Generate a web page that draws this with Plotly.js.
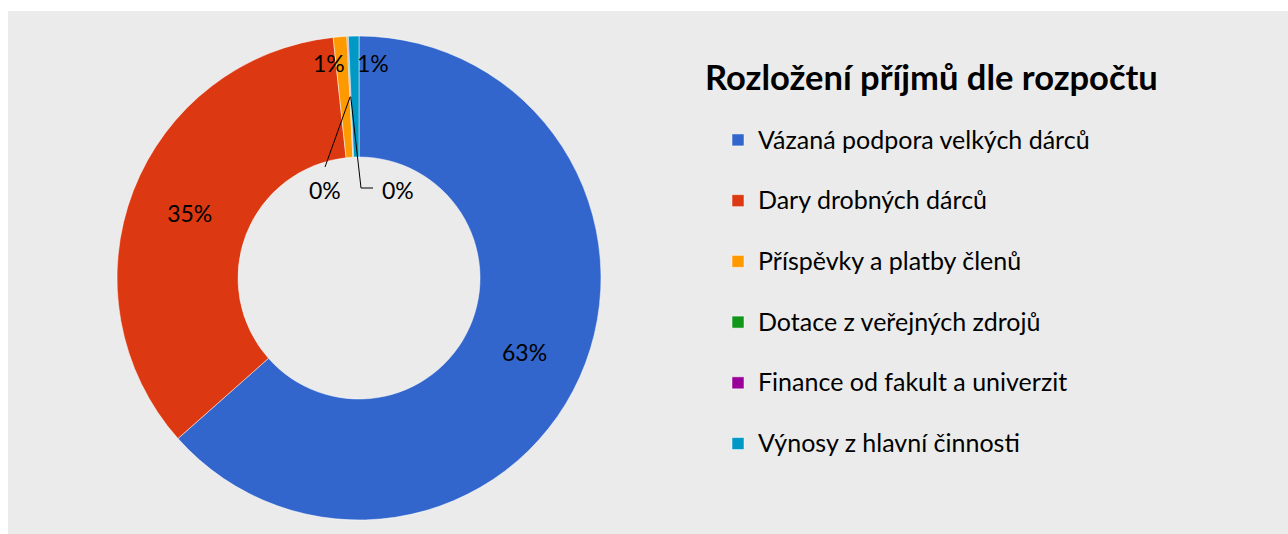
<!DOCTYPE html>
<html>
<head>
<meta charset="utf-8">
<script src="https://cdn.plot.ly/plotly-3.0.1.min.js"></script>
<style>
  html, body { margin: 0; padding: 0; background: #ffffff; }
  #chart { position: absolute; left: 8px; top: 11px; width: 1280px; height: 523px; }
  #chart .legendtext { font-size: 25px !important; }
  #chart .legend .scrollbox { clip-path: none !important; }
</style>
</head>
<body>
<div id="chart"></div>
<script>
// ---- data ----
const categories = [
  "Vázaná podpora velkých dárců",
  "Dary drobných dárců",
  "Příspěvky a platby členů",
  "Dotace z veřejných zdrojů",
  "Finance od fakult a univerzit",
  "Výnosy z hlavní činnosti"
];
const shares = [63.45, 34.85, 0.9, 0.05, 0.05, 0.7];
const sliceColors = ["#3366cc", "#dc3912", "#ff9900", "#109618", "#990099", "#0099c6"];
const chartTitle = "Rozložení příjmů dle rozpočtu";

// ---- geometry (page pixels) ----
const DIV_L = 8, DIV_T = 11, W = 1280, H = 523;
const CX = 359, CY = 278, R = 242, HOLE = 0.5;
const FONT = "Lato, 'Open Sans', sans-serif";

function px(x) { return (x - DIV_L) / W; }
function py(y) { return 1 - (y - DIV_T) / H; }

const total = shares.reduce((a, b) => a + b, 0);
const pctText = shares.map(v => Math.round(v / total * 100) + "%");
// mid angle (clockwise from 12 o'clock) of each slice
let cum = 0;
const midAngle = shares.map(v => { const a = (cum + v / 2) / total * 2 * Math.PI; cum += v; return a; });
function ringPoint(i, r) { return [CX + r * Math.sin(midAngle[i]), CY - r * Math.cos(midAngle[i])]; }

// small-slice label offsets (px from pie centre)
const smallLabelOffsets = { 2: [-30, -215], 3: [-34, -88], 4: [39, -88], 5: [14, -215] };

const annotations = Object.keys(smallLabelOffsets).map(k => {
  const i = +k, o = smallLabelOffsets[k];
  return {
    x: px(CX + o[0]), y: py(CY + o[1]), xref: "paper", yref: "paper",
    text: pctText[i], showarrow: false, xanchor: "center", yanchor: "middle",
    font: { family: FONT, size: 23, color: "#000" }
  };
});

const midR = R * (1 + HOLE) / 2;
const a3 = ringPoint(3, midR), a4 = ringPoint(4, midR);
const shapes = [
  { type: "line", xref: "paper", yref: "paper", x0: px(a3[0]), y0: py(a3[1]), x1: px(325), y1: py(167), line: { color: "#000", width: 1 } },
  { type: "line", xref: "paper", yref: "paper", x0: px(a4[0]), y0: py(a4[1]), x1: px(361), y1: py(188), line: { color: "#000", width: 1 } },
  { type: "line", xref: "paper", yref: "paper", x0: px(361), y0: py(188), x1: px(373), y1: py(188), line: { color: "#000", width: 1 } }
];

const trace = {
  type: "pie",
  labels: categories.map(c => c + "<br>\u00a0"),
  values: shares,
  hole: HOLE,
  sort: false,
  direction: "clockwise",
  rotation: 0,
  marker: { colors: sliceColors, line: { color: "#ffffff", width: 0.5 } },
  texttemplate: pctText,
  textinfo: "text",
  textposition: ["inside", "inside", "none", "none", "none", "none"],
  insidetextorientation: "horizontal",
  textfont: { family: FONT, size: 23, color: "#000" },
  domain: { x: [px(CX - R), px(CX + R)], y: [py(CY + R), py(CY - R)] },
  hoverinfo: "label+percent"
};

const layout = {
  width: W, height: H,
  margin: { l: 0, r: 0, t: 0, b: 0 },
  paper_bgcolor: "#ebebeb",
  plot_bgcolor: "#ebebeb",
  font: { family: FONT, color: "#000" },
  title: {
    text: "<b>" + chartTitle + "</b>",
    x: px(705), xref: "paper", xanchor: "left",
    y: py(78), yref: "paper", yanchor: "middle",
    font: { family: FONT, size: 34.5, color: "#000" }
  },
  showlegend: true,
  legend: {
    x: px(718), xanchor: "left",
    y: py(119), yanchor: "top",
    valign: "top",
    bgcolor: "rgba(0,0,0,0)",
    font: { family: FONT, size: 22.2, color: "#000" }
  },
  annotations: annotations,
  shapes: shapes
};

Plotly.newPlot("chart", [trace], layout, { displayModeBar: false, staticPlot: true });
</script>
</body>
</html>
